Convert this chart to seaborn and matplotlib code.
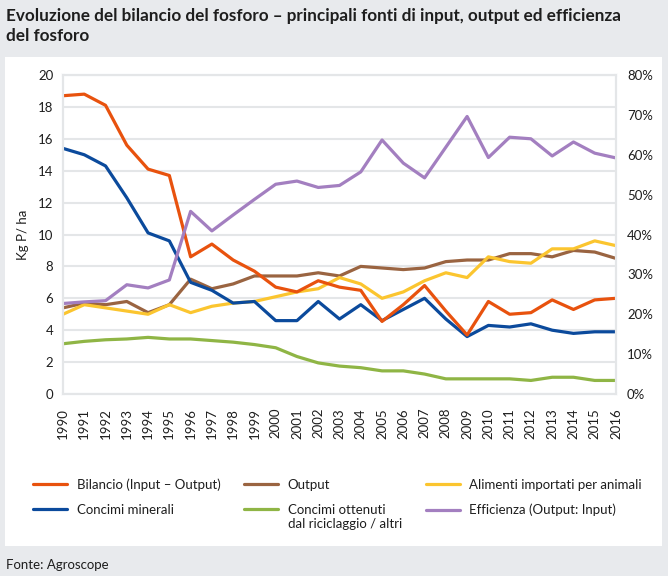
import matplotlib
matplotlib.use("Agg")
import matplotlib.pyplot as plt
import pandas as pd
import seaborn as sns
from matplotlib.patches import Rectangle
from matplotlib.legend_handler import HandlerLine2D

years = list(range(1990, 2017))
bilancio = [18.7, 18.8, 18.1, 15.6, 14.1, 13.7, 8.6, 9.4, 8.4, 7.7, 6.7, 6.4, 7.1, 6.7,
            6.5, 4.55, 5.6, 6.8, 5.2, 3.7, 5.8, 5.0, 5.1, 5.9, 5.3, 5.9, 6.0]
concimi_minerali = [15.4, 15.0, 14.3, 12.3, 10.1, 9.6, 7.0, 6.5, 5.7, 5.8, 4.6, 4.6, 5.8, 4.7,
                    5.6, 4.6, 5.3, 6.0, 4.7, 3.6, 4.3, 4.2, 4.4, 4.0, 3.8, 3.9, 3.9]
output = [5.4, 5.7, 5.6, 5.8, 5.1, 5.6, 7.2, 6.6, 6.9, 7.4, 7.4, 7.4, 7.6, 7.4,
          8.0, 7.9, 7.8, 7.9, 8.3, 8.4, 8.4, 8.8, 8.8, 8.6, 9.0, 8.9, 8.5]
alimenti = [5.0, 5.6, 5.4, 5.2, 5.0, 5.6, 5.1, 5.5, 5.7, 5.8, 6.1, 6.4, 6.6, 7.3,
            6.9, 6.0, 6.4, 7.1, 7.6, 7.3, 8.6, 8.3, 8.2, 9.1, 9.1, 9.6, 9.3]
riciclaggio = [3.15, 3.3, 3.4, 3.45, 3.55, 3.45, 3.45, 3.35, 3.25, 3.1, 2.9, 2.35, 1.95, 1.75,
               1.65, 1.45, 1.45, 1.25, 0.95, 0.95, 0.95, 0.95, 0.85, 1.05, 1.05, 0.85, 0.85]
efficienza = [22.7, 23.1, 23.4, 27.4, 26.6, 28.6, 45.8, 40.9, 44.9, 48.8, 52.6, 53.4, 51.8, 52.3,
              55.7, 63.7, 57.9, 54.2, 61.9, 69.6, 59.3, 64.4, 64.0, 59.7, 63.2, 60.4, 59.2]

lab_bil = "Bilancio (Input – Output)"
lab_min = "Concimi minerali"
lab_out = "Output"
lab_ric = "Concimi ottenuti\ndal riciclaggio / altri"
lab_ali = "Alimenti importati per animali"
lab_eff = "Efficienza (Output: Input)"

colors = {
    lab_bil: "#e8520e",
    lab_min: "#0b4a9c",
    lab_out: "#9a6441",
    lab_ric: "#8fb545",
    lab_ali: "#fbc52f",
    lab_eff: "#a37fc0",
}


class FirstLineHandler(HandlerLine2D):
    # keep the legend line level with the first line of a two-line label
    def create_artists(self, legend, orig_handle, xdescent, ydescent, width, height,
                       fontsize, trans):
        arts = super().create_artists(legend, orig_handle, xdescent, ydescent, width,
                                      height, fontsize, trans)
        for a in arts:
            a.set_ydata([y + 0.62 * fontsize for y in a.get_ydata()])
        return arts


sns.set_theme(style="white")
plt.rcParams["font.family"] = ["Lato", "DejaVu Sans"]
txt = "#1e1e1e"
grid_c = "#e4e6e8"

df = pd.DataFrame({"Anno": years, lab_bil: bilancio, lab_min: concimi_minerali,
                   lab_out: output, lab_ric: riciclaggio, lab_ali: alimenti})
long = df.melt(id_vars="Anno", var_name="Serie", value_name="kg")
eff = pd.DataFrame({"Anno": years, "pct": efficienza})

fig = plt.figure(figsize=(6.68, 5.76), dpi=100)
fig.patch.set_facecolor("#e8eaed")
fig.patches.append(Rectangle((5 / 668, 1 - 546 / 576), 657 / 668, 489 / 576,
                             transform=fig.transFigure, facecolor="white",
                             edgecolor="none", zorder=-5))

ax = fig.add_axes([63 / 668, 1 - 394 / 576, 553 / 668, 319 / 576])
ax.set_facecolor("none")
sns.lineplot(data=long, x="Anno", y="kg", hue="Serie", palette=colors,
             linewidth=2.3, ax=ax, legend=False,
             hue_order=[lab_out, lab_ali, lab_ric, lab_min, lab_bil])
ax2 = ax.twinx()
sns.lineplot(data=eff, x="Anno", y="pct", color=colors[lab_eff], linewidth=2.3, ax=ax2)

ax.set_xlim(1990, 2016)
ax.set_ylim(0, 20)
ax.set_yticks(range(0, 21, 2))
ax.set_xticks(years)
ax.set_xticklabels([str(y) for y in years], rotation=90, fontsize=9.5, color=txt)
ax.set_yticklabels([str(v) for v in range(0, 21, 2)], fontsize=9.5, color=txt)
ax.set_xlabel("")
ax.set_ylabel("Kg P/ ha", fontsize=9.5, color=txt, labelpad=6)
ax.grid(axis="y", color=grid_c, linewidth=1.5)
ax.set_axisbelow(True)
ax.tick_params(axis="y", length=0, pad=7)
ax.tick_params(axis="x", length=0, pad=10)

ax2.set_ylim(0, 80)
ax2.set_yticks(range(0, 81, 10))
ax2.set_yticklabels([f"{v}%" for v in range(0, 81, 10)], fontsize=9.5, color=txt)
ax2.set_ylabel("")
ax2.tick_params(length=0, pad=8)

for a in (ax, ax2):
    for s in a.spines.values():
        s.set_color(grid_c)
        s.set_linewidth(1.5)

handles = []
for lab in [lab_bil, lab_min, lab_out, lab_ric, lab_ali, lab_eff]:
    handles.append(plt.Line2D([], [], color=colors[lab], linewidth=2.3, label=lab))
fig.legend(handles=handles, ncol=3, loc="upper left",
           bbox_to_anchor=(33 / 668, 1 - 478 / 576), frameon=False,
           fontsize=9.5, handlelength=2.6, handletextpad=0.7,
           columnspacing=1.8, labelspacing=1.0, borderpad=0, borderaxespad=0,
           labelcolor=txt, handler_map={handles[3]: FirstLineHandler()})

fig.text(6 / 668, 1 - 8 / 576,
         "Evoluzione del bilancio del fosforo – principali fonti di input, output ed efficienza\ndel fosforo",
         ha="left", va="top", fontsize=12.3, fontweight="bold", color=txt, linespacing=1.3)
fig.text(6 / 668, 1 - 565 / 576, "Fonte: Agroscope", ha="left", va="center",
         fontsize=9.5, color=txt)

fig.savefig("out.png", dpi=100)
